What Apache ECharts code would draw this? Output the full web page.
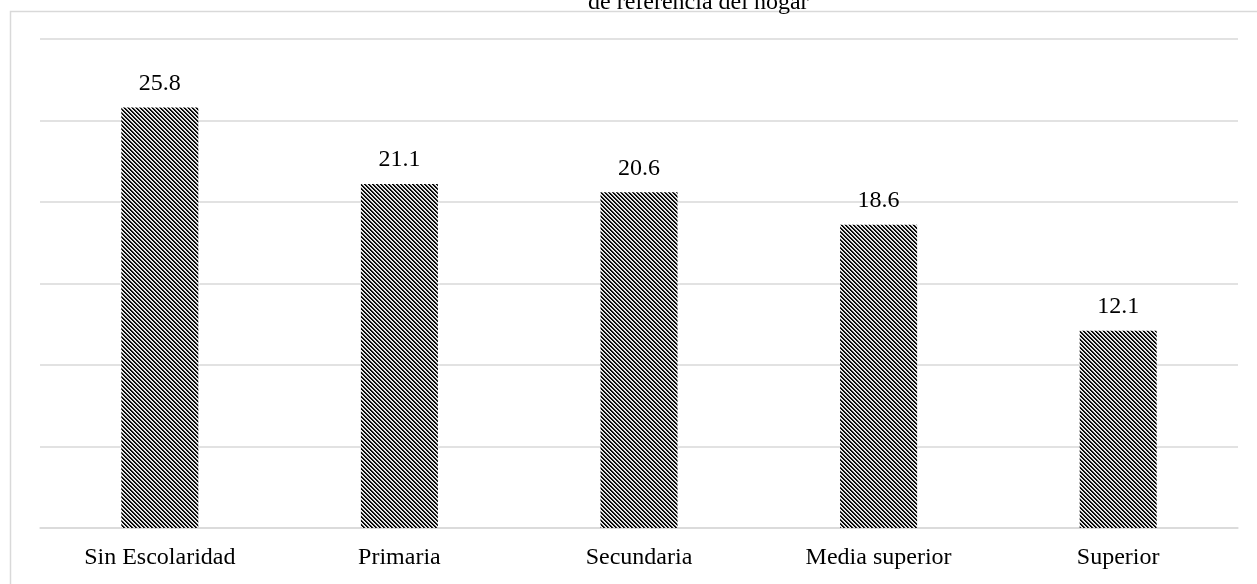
<!DOCTYPE html>
<html>
<head>
<meta charset="utf-8">
<script src="https://cdn.jsdelivr.net/npm/echarts@6/dist/echarts.min.js"></script>
<style>
  html, body { margin: 0; padding: 0; background: #fff; }
  #chart { width: 1257px; height: 584px; }
</style>
</head>
<body>
<div id="chart"></div>
<script>
// Education level of the household head
const categories = ['Sin Escolaridad', 'Primaria', 'Secundaria', 'Media superior', 'Superior'];
const values = [25.8, 21.1, 20.6, 18.6, 12.1];
const titleText = 'de referencia del hogar';

// Diagonal hatch fill for the bars
function hatchPattern() {
  const c = document.createElement('canvas');
  c.width = 4; c.height = 4;
  const ctx = c.getContext('2d');
  const shades = ['#000000', '#1a1a1a', '#d0d0d0', '#f0f0f0'];
  for (let y = 0; y < 4; y++) {
    for (let x = 0; x < 4; x++) {
      ctx.fillStyle = shades[((x - y) % 4 + 4) % 4];
      ctx.fillRect(x, y, 1, 1);
    }
  }
  return c;
}

const serif = '"Liberation Serif", "Times New Roman", serif';
const chart = echarts.init(document.getElementById('chart'));
chart.setOption({
  animation: false,
  backgroundColor: '#fff',
  grid: { left: 40, right: 19, top: 39, bottom: 56 },
  graphic: [
    {
      type: 'rect',
      shape: { x: 10.5, y: 11.5, width: 1260, height: 600 },
      style: { fill: 'none', stroke: '#d9d9d9', lineWidth: 1.5 },
      z: -1
    },
    {
      type: 'text',
      style: {
        text: titleText,
        x: 588, y: 15,
        textVerticalAlign: 'bottom',
        font: '24px ' + serif,
        fill: '#000'
      }
    }
  ],
  xAxis: {
    type: 'category',
    data: categories,
    axisLine: { show: true, lineStyle: { color: '#d9d9d9', width: 1.5 } },
    axisTick: { show: false },
    axisLabel: { color: '#000', fontFamily: serif, fontSize: 24, margin: 18 }
  },
  yAxis: {
    type: 'value',
    min: 0, max: 30, interval: 5,
    axisLine: { show: false },
    axisTick: { show: false },
    axisLabel: { show: false },
    splitLine: { lineStyle: { color: '#d9d9d9', width: 1.5 } }
  },
  series: [{
    type: 'bar',
    data: values,
    barWidth: 77,
    itemStyle: { color: { image: hatchPattern(), repeat: 'repeat' } },
    label: {
      show: true,
      position: 'top',
      distance: 12,
      color: '#000',
      fontFamily: serif,
      fontSize: 24,
      formatter: p => p.value.toFixed(1)
    }
  }]
});
</script>
</body>
</html>
